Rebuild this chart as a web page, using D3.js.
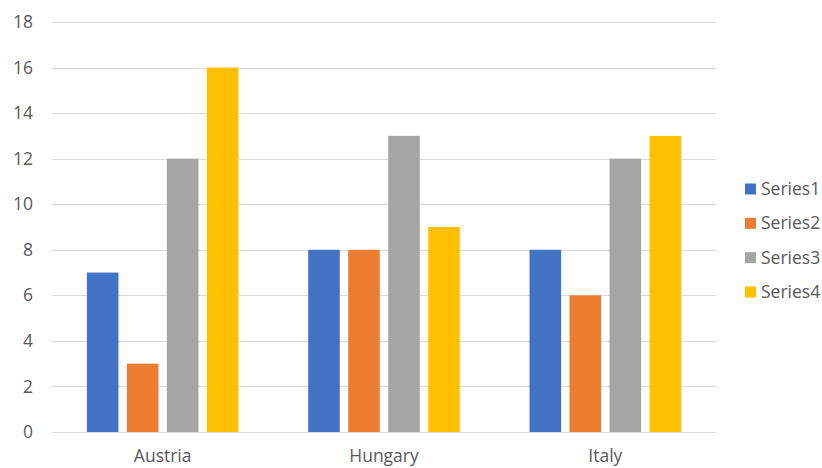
<!DOCTYPE html>
<html><head><meta charset="utf-8">
<script src="https://cdn.jsdelivr.net/npm/d3@7"></script>
<style>body{margin:0;background:#fff;}svg{display:block;}</style>
</head><body>
<script>
const categories = ["Austria", "Hungary", "Italy"];
const seriesNames = ["Series1", "Series2", "Series3", "Series4"];
const series1 = [7, 8, 8];
const series2 = [3, 8, 6];
const series3 = [12, 13, 12];
const series4 = [16, 9, 13];
const yTicks = [0, 2, 4, 6, 8, 10, 12, 14, 16, 18];
const colors = ["#4472C4", "#ED7D31", "#A5A5A5", "#FFC000"];

const seriesValues = [series1, series2, series3, series4];
const W = 822, H = 468;
const svg = d3.select("body").append("svg").attr("width", W).attr("height", H);
const font = "Open Sans, Liberation Sans, sans-serif";
const fs = 17.5;

const x = d3.scaleBand().domain(categories).range([52, 716]).paddingInner(0).paddingOuter(0);
const y = d3.scaleLinear().domain([0, 18]).range([432, 22]);

// gridlines
svg.append("g").selectAll("line").data(yTicks).join("line")
  .attr("x1", 52).attr("x2", 716)
  .attr("y1", d => Math.round(y(d)) + 0.5).attr("y2", d => Math.round(y(d)) + 0.5)
  .attr("stroke", "#D9D9D9").attr("stroke-width", 1);

// y axis labels
const yAxis = d3.axisLeft(y).tickValues(yTicks).tickSize(0).tickPadding(0);
const gy = svg.append("g").attr("transform", "translate(33,0)").call(yAxis);
gy.select(".domain").remove();
gy.selectAll("text").attr("font-family", font).attr("font-size", fs).attr("fill", "#595959");

// bars
const bw = x.bandwidth();
const barW = 31.6, gap = 8.4;
const groupW = 4 * barW + 3 * gap;
const inner = d3.scaleBand().domain(seriesNames).range([0, groupW]).paddingInner(gap / (barW + gap)).paddingOuter(0);

seriesNames.forEach((s, si) => {
  svg.append("g").selectAll("rect").data(categories).join("rect")
    .attr("x", c => x(c) + (bw - groupW) / 2 + inner(s))
    .attr("width", inner.bandwidth())
    .attr("y", (c, i) => y(seriesValues[si][i]))
    .attr("height", (c, i) => y(0) - y(seriesValues[si][i]))
    .attr("fill", colors[si]);
});

// x axis labels
const xAxis = d3.axisBottom(x).tickSize(0).tickPadding(0);
const gx = svg.append("g").attr("transform", "translate(0,456)").call(xAxis);
gx.select(".domain").remove();
gx.selectAll("text").attr("font-family", font).attr("font-size", fs).attr("fill", "#595959").attr("dy", "0.35em");

// legend
const legY = d3.scalePoint().domain(seriesNames).range([189, 292]);
const leg = svg.append("g").selectAll("g").data(seriesNames).join("g")
  .attr("transform", d => `translate(745,${legY(d)})`);
leg.append("rect").attr("x", 0).attr("y", -5.5).attr("width", 11).attr("height", 11)
  .attr("fill", (d, i) => colors[i]);
leg.append("text").attr("x", 16).attr("dy", "0.35em").text(d => d)
  .attr("font-family", font).attr("font-size", fs).attr("fill", "#595959");
</script>
</body></html>
